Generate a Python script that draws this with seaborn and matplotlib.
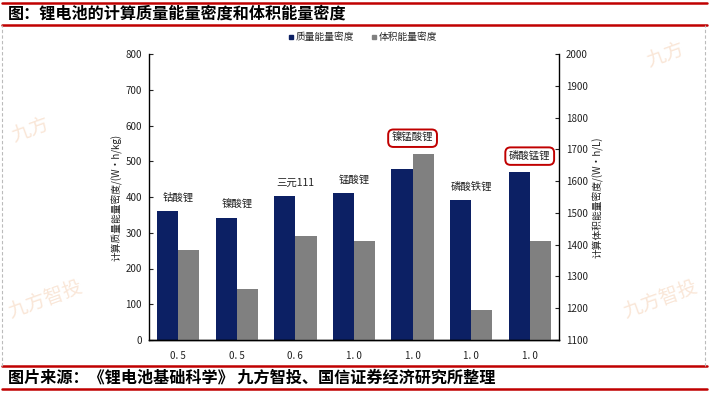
import pandas as pd
import matplotlib.pyplot as plt
import matplotlib.lines as mlines
import seaborn as sns

# data
materials = ["钴酸锂", "镍酸锂", "三元111", "锰酸锂", "镍锰酸锂", "磷酸铁锂", "磷酸锰锂"]
ratios = ["0. 5", "0. 5", "0. 6", "1. 0", "1. 0", "1. 0", "1. 0"]
mass_density = [360, 340, 402, 412, 478, 392, 469]        # W·h/kg, left axis
volume_density = [1382, 1262, 1428, 1410, 1684, 1195, 1410]  # W·h/L, right axis
boxed = ["镍锰酸锂", "磷酸锰锂"]

series = ["质量能量密度", "体积能量密度"]
blue = "#0c2064"
gray = "#808080"
red = "#c00000"


def long_frame(keep):
    """Long table with only one series filled, the other left empty so dodge still works."""
    rows = []
    for m, a, b in zip(materials, mass_density, volume_density):
        rows.append({"材料": m, "系列": series[0], "值": a if keep == 0 else float("nan")})
        rows.append({"材料": m, "系列": series[1], "值": b if keep == 1 else float("nan")})
    return pd.DataFrame(rows)


sns.set_theme(style="white")
plt.rcParams["font.family"] = ["Noto Sans CJK SC", "DejaVu Sans"]
plt.rcParams["axes.unicode_minus"] = False

fig = plt.figure(figsize=(7.09, 3.93), dpi=100)
ax = fig.add_axes([149 / 709, 1 - 340 / 393, 410 / 709, 286 / 393])
ax2 = ax.twinx()

pal = {series[0]: blue, series[1]: gray}
bar_kw = dict(x="材料", y="值", hue="系列", hue_order=series, order=materials, palette=pal,
              width=0.72, saturation=1, legend=False, edgecolor="none", linewidth=0)
sns.barplot(data=long_frame(0), ax=ax, **bar_kw)
sns.barplot(data=long_frame(1), ax=ax2, **bar_kw)

ax.set_ylim(0, 800)
ax2.set_ylim(1100, 2000)
ax.set_yticks(range(0, 801, 100))
ax2.set_yticks(range(1100, 2001, 100))
ax.set_xlim(-0.5, 6.5)
ax.set_xticks(range(len(materials)))
ax.set_xticklabels(ratios)
ax.set_xlabel("")
ax2.set_xlabel("")

for a in (ax, ax2):
    a.spines["top"].set_visible(False)
    for s in ("left", "right", "bottom"):
        a.spines[s].set_color("black")
        a.spines[s].set_linewidth(1.0)
    a.tick_params(axis="y", labelsize=7, colors="#222222", length=3, width=0.8,
                  direction="in", pad=5)
ax.spines["right"].set_visible(False)
ax2.spines["left"].set_visible(False)
ax.tick_params(axis="y", left=True)
ax2.tick_params(axis="y", right=True)
ax.tick_params(axis="x", labelsize=7, colors="#222222", length=0, pad=8)

ax.set_ylabel("计算质量能量密度/(W·h/kg)", fontsize=7, color="#222222", labelpad=2)
ax2.set_ylabel("计算体积能量密度/(W·h/L)", fontsize=7, color="#222222", rotation=90, labelpad=3)

# material names above the taller bar of each group (right axis units)
for i, (m, a, b) in enumerate(zip(materials, mass_density, volume_density)):
    top = max(b, 1100 + a * 900 / 800)
    kw = {}
    if m in boxed:
        kw["bbox"] = dict(boxstyle="round,pad=0.35,rounding_size=0.5", fc="white", ec=red, lw=1.4)
    ax2.annotate(m, (i, top), xytext=(0, 8 if m in boxed else 6), textcoords="offset points",
                 ha="center", va="bottom", fontsize=7.5, color="#222222", **kw)

handles = [mlines.Line2D([], [], marker="s", ls="", color=c, markersize=3.5) for c in (blue, gray)]
fig.legend(handles, series, loc="center", bbox_to_anchor=(362 / 709, 1 - 37 / 393), ncol=2,
           frameon=False, fontsize=7, handletextpad=0.1, columnspacing=1.6, handlelength=0.8)

# report frame: red rules, titles and dashed side borders
for y in (3, 25, 366, 389):
    fig.add_artist(mlines.Line2D([0.003, 0.997], [1 - y / 393] * 2, color=red, lw=1.8))
for x in (2, 705):
    fig.add_artist(mlines.Line2D([x / 709] * 2, [1 - 366 / 393, 1 - 25 / 393],
                                 color="#bbbbbb", lw=0.8, ls=(0, (3, 2))))
fig.text(8 / 709, 1 - 14 / 393, "图：锂电池的计算质量能量密度和体积能量密度",
         fontsize=11.6, fontweight="bold", va="center", ha="left", color="black")
fig.text(8 / 709, 1 - 378 / 393, "图片来源：《锂电池基础科学》 九方智投、国信证券经济研究所整理",
         fontsize=11.6, fontweight="bold", va="center", ha="left", color="black")

# faint watermarks
for (x, y, t) in [(30, 130, "九方"), (45, 300, "九方智投"), (660, 300, "九方智投"), (665, 55, "九方")]:
    fig.text(x / 709, 1 - y / 393, t, fontsize=14, color="#f3c9a8", alpha=0.45,
             rotation=20, ha="center", va="center", zorder=0)

fig.savefig("out.png", dpi=100)
